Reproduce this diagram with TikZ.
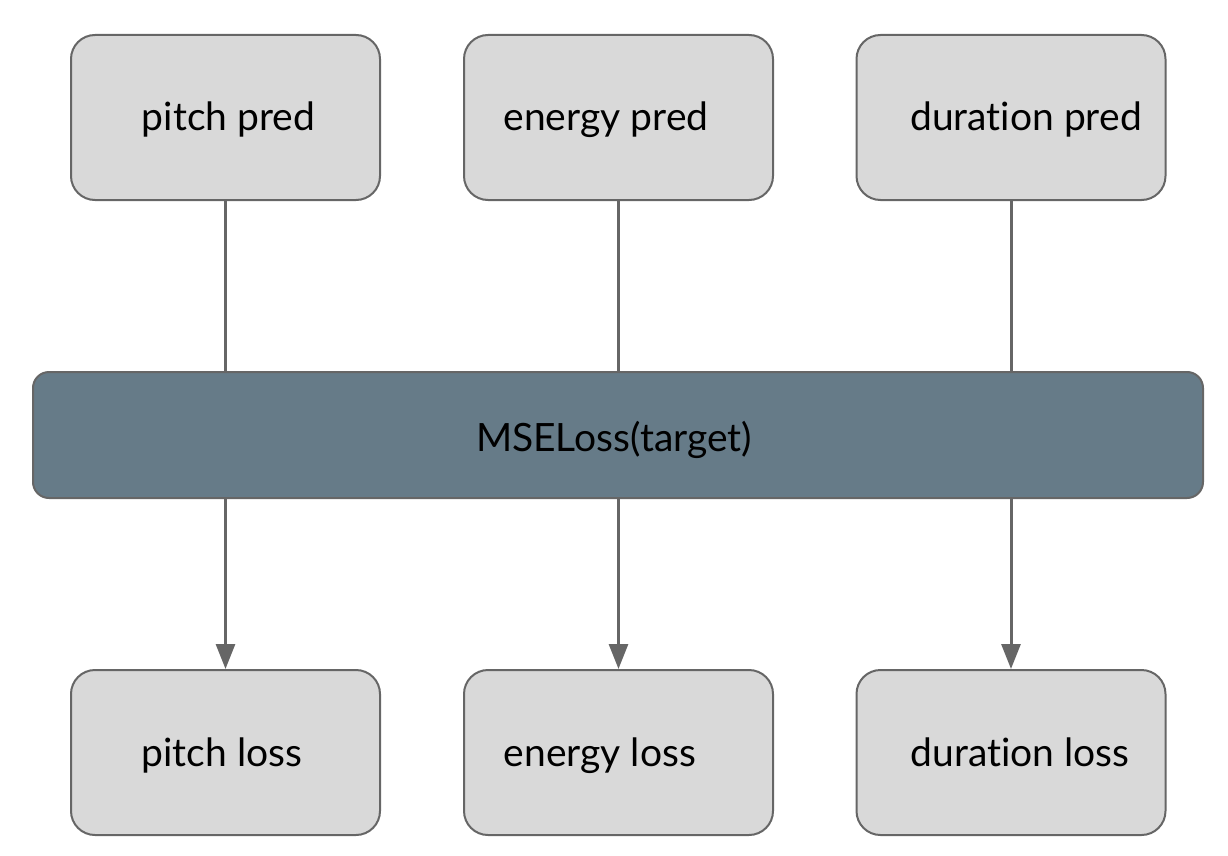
\documentclass[tikz,border=0pt]{standalone}
\usepackage{fontspec}
\setmainfont{Lato}[Ligatures={NoCommon}]
\usetikzlibrary{arrows.meta}
\definecolor{boxfill}{HTML}{D9D9D9}
\definecolor{edge}{HTML}{666666}
\definecolor{mse}{HTML}{667B88}
\begin{document}
\begin{tikzpicture}[x=1pt,y=-1pt,
  smallbox/.style={draw=edge,line width=2pt,fill=boxfill,rounded corners=24pt,minimum width=309pt,minimum height=165pt,inner sep=0pt},
  bigbox/.style={draw=edge,line width=2pt,fill=mse,rounded corners=16pt,minimum width=1170pt,minimum height=126pt,inner sep=0pt},
  lbl/.style={font=\fontsize{39}{46}\selectfont,text=black,inner sep=0pt,anchor=base},
  conn/.style={draw=edge,line width=3pt},
  arr/.style={conn,-{Triangle[width=19pt,length=25pt]}}]
\useasboundingbox (0,0) rectangle (1228,856);
\node[smallbox] (pp) at (225.5,117.5) {};
\node[smallbox] (ep) at (618.5,117.5) {};
\node[smallbox] (dp) at (1011,117.5) {};
\node[bigbox] (mse) at (618,435) {};
\node[smallbox] (pl) at (225.5,752.5) {};
\node[smallbox] (el) at (618.5,752.5) {};
\node[smallbox] (dl) at (1011,752.5) {};
\node[lbl] (tpp) at (228.5,131) {pitch pred};
\node[lbl] (tep) at (606,131) {energy pred};
\node[lbl] (tdp) at (1026,131) {duration pred};
\node[lbl] (tmse) at (614,451) {MSELoss(target)};
\node[lbl] (tpl) at (222,766) {pitch loss};
\node[lbl] (tel) at (600,766) {energy loss};
\node[lbl] (tdl) at (1020,766) {duration loss};
\draw[conn] (pp.south) -- (pp.south |- mse.north);
\draw[conn] (ep.south) -- (ep.south |- mse.north);
\draw[conn] (dp.south) -- (dp.south |- mse.north);
\draw[arr] (pl.north |- mse.south) -- (pl.north);
\draw[arr] (el.north |- mse.south) -- (el.north);
\draw[arr] (dl.north |- mse.south) -- (dl.north);
\end{tikzpicture}
\end{document}
